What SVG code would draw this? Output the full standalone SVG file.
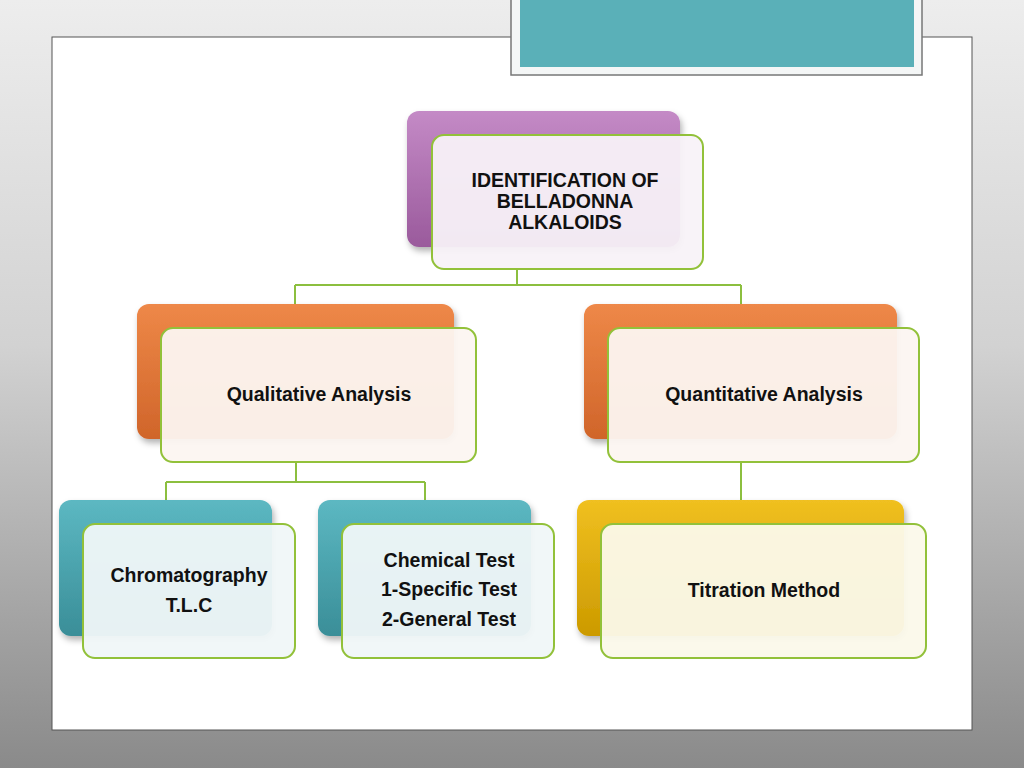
<svg xmlns="http://www.w3.org/2000/svg" width="1024" height="768" viewBox="0 0 1024 768">
<defs>
<linearGradient id="bg" x1="0" y1="0" x2="0" y2="1">
<stop offset="0" stop-color="#ededed"/>
<stop offset="0.45" stop-color="#d2d2d2"/>
<stop offset="1" stop-color="#8a8a8a"/>
</linearGradient>
<linearGradient id="gPurple" x1="0" y1="0" x2="0" y2="1"><stop offset="0" stop-color="#c48ac6"/><stop offset="1" stop-color="#9a5a9c"/></linearGradient>
<linearGradient id="gOrange" x1="0" y1="0" x2="0" y2="1"><stop offset="0" stop-color="#ee8848"/><stop offset="1" stop-color="#d0652a"/></linearGradient>
<linearGradient id="gTeal" x1="0" y1="0" x2="0" y2="1"><stop offset="0" stop-color="#5cb8c2"/><stop offset="1" stop-color="#3a8e98"/></linearGradient>
<linearGradient id="gGold" x1="0" y1="0" x2="0" y2="1"><stop offset="0" stop-color="#f0c020"/><stop offset="1" stop-color="#cc9a00"/></linearGradient>
<filter id="sh" x="-10%" y="-10%" width="130%" height="130%"><feDropShadow dx="2" dy="4" stdDeviation="3" flood-color="#000" flood-opacity="0.3"/></filter>
</defs>
<style>
.front{stroke:#92c13a;stroke-width:2;}
.back{filter:url(#sh);}
.conn{stroke:#8cbf3f;stroke-width:2;fill:none;}
text{font-family:"Liberation Sans",Arial,sans-serif;font-weight:bold;font-size:19.5px;fill:#111;text-anchor:middle;}
</style>
<rect width="1024" height="768" fill="url(#bg)"/>
<rect x="52" y="37" width="920" height="693" fill="#ffffff" stroke="#555" stroke-width="1"/>
<rect x="511" y="-2" width="411" height="77" fill="#f4f6f6" stroke="#777" stroke-width="1.5"/>
<rect x="520" y="-2" width="394" height="69" fill="#5ab0b8"/>
<g id="connectors">
<path class="conn" d="M517 269V285M295 285H741M295 285V304M741 285V304"/>
<path class="conn" d="M296 462V482M166 482H425M166 482V500M425 482V500"/>
<path class="conn" d="M741 462V500"/>
</g>
<g id="root">
<rect class="back" x="407" y="111" width="273" height="136" rx="12" fill="url(#gPurple)"/>
<rect class="front" x="432" y="135" width="271" height="134" rx="12" fill="#f8f2f8" fill-opacity="0.94"/>
<text x="565" y="187">IDENTIFICATION OF</text>
<text x="565" y="208">BELLADONNA</text>
<text x="565" y="229">ALKALOIDS</text>
</g>
<g id="qualitative">
<rect class="back" x="137" y="304" width="317" height="135" rx="12" fill="url(#gOrange)"/>
<rect class="front" x="161" y="328" width="315" height="134" rx="12" fill="#fcf5f1" fill-opacity="0.95"/>
<text x="319" y="401">Qualitative Analysis</text>
</g>
<g id="quantitative">
<rect class="back" x="584" y="304" width="313" height="135" rx="12" fill="url(#gOrange)"/>
<rect class="front" x="608" y="328" width="311" height="134" rx="12" fill="#fcf5f1" fill-opacity="0.95"/>
<text x="764" y="401">Quantitative Analysis</text>
</g>
<g id="chromatography">
<rect class="back" x="59" y="500" width="213" height="136" rx="12" fill="url(#gTeal)"/>
<rect class="front" x="83" y="524" width="212" height="134" rx="12" fill="#f0f7f8" fill-opacity="0.95"/>
<text x="189" y="582">Chromatography</text>
<text x="189" y="612">T.L.C</text>
</g>
<g id="chemical">
<rect class="back" x="318" y="500" width="213" height="136" rx="12" fill="url(#gTeal)"/>
<rect class="front" x="342" y="524" width="212" height="134" rx="12" fill="#f0f7f8" fill-opacity="0.95"/>
<text x="449" y="567">Chemical Test</text>
<text x="449" y="596">1-Specific Test</text>
<text x="449" y="626">2-General Test</text>
</g>
<g id="titration">
<rect class="back" x="577" y="500" width="327" height="136" rx="12" fill="url(#gGold)"/>
<rect class="front" x="601" y="524" width="325" height="134" rx="12" fill="#fbf9ea" fill-opacity="0.95"/>
<text x="764" y="597">Titration Method</text>
</g>
</svg>
